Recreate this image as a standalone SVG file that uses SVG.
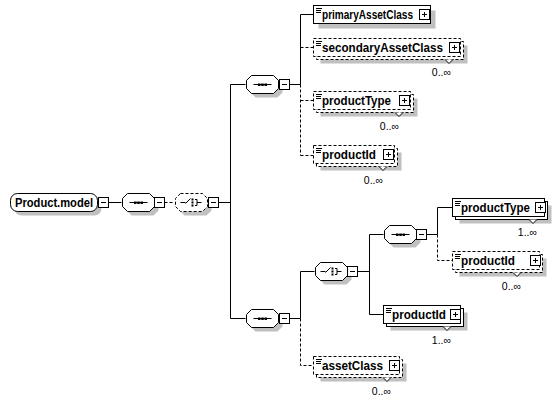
<svg xmlns="http://www.w3.org/2000/svg" width="560" height="402" viewBox="0 0 560 402">
<style>
.bg{fill:#ffffff}
.sh{fill:#c0c0c0;stroke:none}
.box{fill:#ffffff;stroke:#000;stroke-width:1}
.opt{stroke-dasharray:3,2}
.ln{stroke:#000;stroke-width:1;fill:none}
.dl{stroke:#000;stroke-width:1;fill:none;stroke-dasharray:3,2}
.nm{font-family:"Liberation Sans",Arial,sans-serif;font-weight:bold;font-size:12px;fill:#000}
.oc{font-family:"Liberation Sans",Arial,sans-serif;font-size:10.5px;fill:#000;text-anchor:end}
.dot{fill:#000}
</style>
<defs>
<g id="plus"><rect x="0.5" y="0.5" width="10" height="10" fill="#fff" stroke="#000"/><path d="M3 5.5H8M5.5 3V8" stroke="#000"/></g>
<g id="minus"><rect x="0.5" y="0.5" width="10" height="10" fill="#fff" stroke="#000"/><path d="M3 5.5H8" stroke="#000"/></g>
<g id="ic"><path d="M3 2.5H9M3 4.5H8M3 6.5H8" stroke="#000"/></g>
<g id="seqi"><path d="M-9 0.5H9" stroke="#000"/><rect x="-4.5" y="-0.5" width="2.5" height="2.5" class="dot"/><rect x="-1.25" y="-0.5" width="2.5" height="2.5" class="dot"/><rect x="2" y="-0.5" width="2.5" height="2.5" class="dot"/></g>
<g id="choi"><path d="M-11 0.5H-6M-6 1.5L-1 -3.5M3.5 -2.5H5.5V3.5H3.5M5.5 0.5H10" stroke="#000" fill="none"/><rect x="0" y="-3.5" width="2" height="2" class="dot"/><rect x="0" y="-0.5" width="2" height="2" class="dot"/><rect x="0" y="2.5" width="2" height="2" class="dot"/></g>
</defs>
<rect class="bg" x="0" y="0" width="560" height="402"/>

<g id="connectors">
<path class="ln" d="M108.5 202.5H121.5"/>
<path class="dl" d="M164.5 202.5H174.5"/>
<path class="ln" d="M218.5 202.5H230.5M230.5 84.5V318.5M230.5 84.5H245.5M230.5 318.5H245.5"/>
<path class="ln" d="M289.5 84.5H300.5M300.5 14.5V84.5M300.5 14.5H313.5"/>
<path class="dl" d="M300.5 84.5V155.5M300.5 47.5H313.5M300.5 100.5H313.5M300.5 155.5H313.5"/>
<path class="ln" d="M289.5 318.5H300.5M300.5 271.5V318.5M300.5 271.5H314.5"/>
<path class="dl" d="M300.5 318.5V365.5H313.5"/>
<path class="ln" d="M357.5 271.5H369.5M369.5 234.5V314.5M369.5 234.5H383.5M369.5 314.5H383.5"/>
<path class="ln" d="M426.5 234.5H437.5M437.5 207.5V234.5M437.5 207.5H452.5"/>
<path class="dl" d="M437.5 234.5V260.5H452.5"/>
</g>

<g id="product-model">
<rect class="sh" x="14.5" y="197.5" width="87" height="18" rx="7"/>
<rect class="box" x="10.5" y="193.5" width="87" height="18" rx="7"/>
<text class="nm" x="15" y="207" textLength="78" lengthAdjust="spacingAndGlyphs">Product.model</text>
<use href="#minus" x="98" y="197"/>
</g>

<g id="seq1">
<path class="sh" d="M131.5 197.5H153.5L158.5 202.5V210.5L153.5 215.5H131.5L126.5 210.5V202.5Z"/>
<path class="box" d="M127.5 193.5H149.5L154.5 198.5V206.5L149.5 211.5H127.5L122.5 206.5V198.5Z"/>
<use href="#seqi" x="138.5" y="202"/>
<use href="#minus" x="154" y="197"/>
</g>

<g id="choice1">
<path class="sh" d="M184.5 197.5H206.5L211.5 202.5V210.5L206.5 215.5H184.5L179.5 210.5V202.5Z"/>
<path class="box opt" d="M180.5 193.5H202.5L207.5 198.5V206.5L202.5 211.5H180.5L175.5 206.5V198.5Z"/>
<use href="#choi" x="191.5" y="202"/>
<use href="#minus" x="208" y="197"/>
</g>

<g id="seq-upper">
<path class="sh" d="M255.5 79.5H277.5L282.5 84.5V92.5L277.5 97.5H255.5L250.5 92.5V84.5Z"/>
<path class="box" d="M251.5 75.5H273.5L278.5 80.5V88.5L273.5 93.5H251.5L246.5 88.5V80.5Z"/>
<use href="#seqi" x="262.5" y="84"/>
<use href="#minus" x="279" y="79"/>
</g>

<g id="primaryAssetClass">
<rect class="sh" x="318.5" y="10.5" width="117" height="18"/>
<rect class="box" x="313.5" y="5.5" width="117" height="18"/>
<use href="#ic" x="313" y="6"/>
<text class="nm" x="322" y="19" textLength="91" lengthAdjust="spacingAndGlyphs">primaryAssetClass</text>
<use href="#plus" x="419" y="9"/>
</g>

<g id="secondaryAssetClass">
<rect class="sh" x="320.5" y="45.5" width="147" height="18"/>
<rect class="box opt" x="316.5" y="41.5" width="147" height="18"/>
<rect class="box opt" x="313.5" y="38.5" width="147" height="18"/>
<path class="box" d="M445 59.5L449 63.5L453 59.5"/>
<use href="#ic" x="313" y="39"/>
<text class="nm" x="322" y="52" textLength="121" lengthAdjust="spacingAndGlyphs">secondaryAssetClass</text>
<use href="#plus" x="449" y="42"/>
<text class="oc" x="451" y="76">0..∞</text>
</g>

<g id="productType1">
<rect class="sh" x="320.5" y="98.5" width="97" height="18"/>
<rect class="box opt" x="316.5" y="94.5" width="97" height="18"/>
<rect class="box opt" x="313.5" y="91.5" width="97" height="18"/>
<path class="box" d="M395 112.5L399 116.5L403 112.5"/>
<use href="#ic" x="313" y="92"/>
<text class="nm" x="322" y="105" textLength="69" lengthAdjust="spacingAndGlyphs">productType</text>
<use href="#plus" x="399" y="95"/>
<text class="oc" x="399" y="130">0..∞</text>
</g>

<g id="productId1">
<rect class="sh" x="320.5" y="152.5" width="81" height="18"/>
<rect class="box opt" x="316.5" y="148.5" width="81" height="18"/>
<rect class="box opt" x="313.5" y="145.5" width="81" height="18"/>
<path class="box" d="M379 166.5L383 170.5L387 166.5"/>
<use href="#ic" x="313" y="146"/>
<text class="nm" x="322" y="159" textLength="54" lengthAdjust="spacingAndGlyphs">productId</text>
<use href="#plus" x="383" y="149"/>
<text class="oc" x="383" y="184">0..∞</text>
</g>

<g id="seq-lower">
<path class="sh" d="M255.5 313.5H277.5L282.5 318.5V326.5L277.5 331.5H255.5L250.5 326.5V318.5Z"/>
<path class="box" d="M251.5 309.5H273.5L278.5 314.5V322.5L273.5 327.5H251.5L246.5 322.5V314.5Z"/>
<use href="#seqi" x="262.5" y="318"/>
<use href="#minus" x="279" y="313"/>
</g>

<g id="choice2">
<path class="sh" d="M324.5 266.5H346.5L351.5 271.5V279.5L346.5 284.5H324.5L319.5 279.5V271.5Z"/>
<path class="box" d="M320.5 262.5H342.5L347.5 267.5V275.5L342.5 280.5H320.5L315.5 275.5V267.5Z"/>
<use href="#choi" x="331.5" y="271"/>
<use href="#minus" x="347" y="266"/>
</g>

<g id="seq3">
<path class="sh" d="M393.5 229.5H415.5L420.5 234.5V242.5L415.5 247.5H393.5L388.5 242.5V234.5Z"/>
<path class="box" d="M389.5 225.5H411.5L416.5 230.5V238.5L411.5 243.5H389.5L384.5 238.5V230.5Z"/>
<use href="#seqi" x="400.5" y="234"/>
<use href="#minus" x="416" y="229"/>
</g>

<g id="productType2">
<rect class="sh" x="459.5" y="205.5" width="92" height="18"/>
<rect class="box" x="455.5" y="201.5" width="92" height="18"/>
<rect class="box" x="452.5" y="198.5" width="92" height="18"/>
<path class="box" d="M529 219.5L533 223.5L537 219.5"/>
<use href="#ic" x="452" y="199"/>
<text class="nm" x="461" y="212" textLength="69" lengthAdjust="spacingAndGlyphs">productType</text>
<use href="#plus" x="535" y="202"/>
<text class="oc" x="537" y="236">1..∞</text>
</g>

<g id="productId2">
<rect class="sh" x="459.5" y="258.5" width="87" height="18"/>
<rect class="box opt" x="455.5" y="254.5" width="87" height="18"/>
<rect class="box opt" x="452.5" y="251.5" width="87" height="18"/>
<path class="box" d="M513 272.5L517 276.5L521 272.5"/>
<use href="#ic" x="452" y="252"/>
<text class="nm" x="461" y="265" textLength="54" lengthAdjust="spacingAndGlyphs">productId</text>
<use href="#plus" x="530" y="255"/>
<text class="oc" x="521" y="290">0..∞</text>
</g>

<g id="productId3">
<rect class="sh" x="390.5" y="312.5" width="77" height="18"/>
<rect class="box" x="386.5" y="308.5" width="77" height="18"/>
<rect class="box" x="383.5" y="305.5" width="77" height="18"/>
<path class="box" d="M443 326.5L447 330.5L451 326.5"/>
<use href="#ic" x="383" y="306"/>
<text class="nm" x="392" y="319" textLength="54" lengthAdjust="spacingAndGlyphs">productId</text>
<use href="#plus" x="450" y="309"/>
<text class="oc" x="451" y="344">1..∞</text>
</g>

<g id="assetClass">
<rect class="sh" x="320.5" y="363.5" width="86" height="18"/>
<rect class="box opt" x="316.5" y="359.5" width="86" height="18"/>
<rect class="box opt" x="313.5" y="356.5" width="86" height="18"/>
<path class="box" d="M383 377.5L387 381.5L391 377.5"/>
<use href="#ic" x="313" y="357"/>
<text class="nm" x="322" y="370" textLength="61" lengthAdjust="spacingAndGlyphs">assetClass</text>
<use href="#plus" x="389" y="360"/>
<text class="oc" x="391" y="395">0..∞</text>
</g>
</svg>
